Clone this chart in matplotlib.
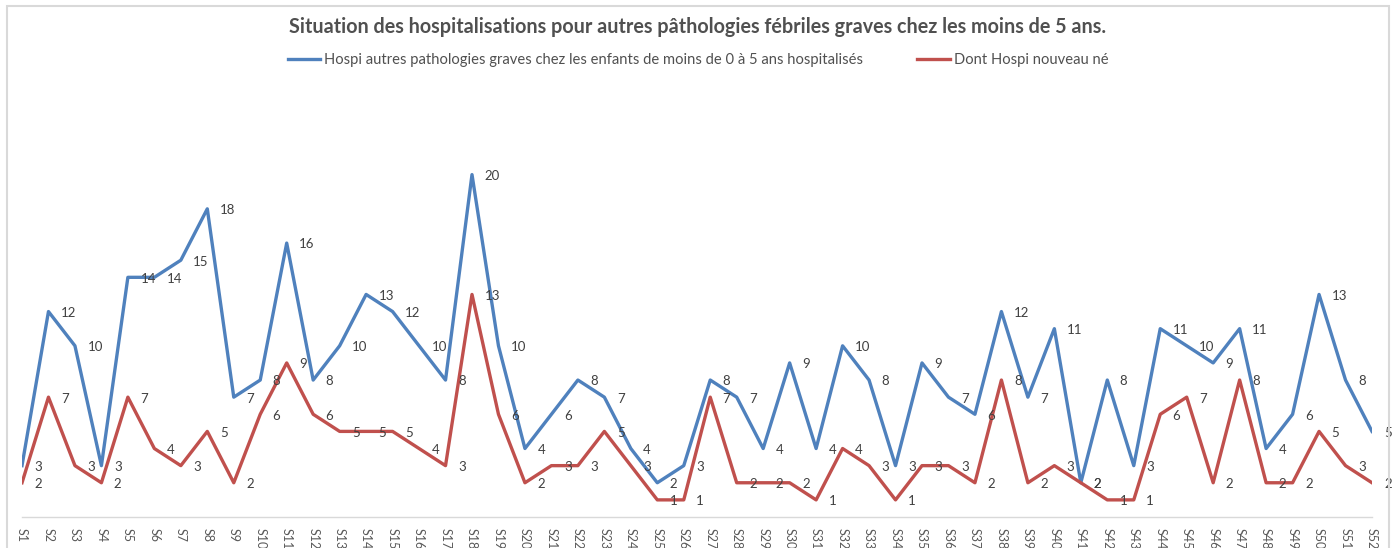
import matplotlib.pyplot as plt
from matplotlib.lines import Line2D
from matplotlib.patches import Rectangle

plt.rcParams["font.family"] = ["Lato", "DejaVu Sans"]

weeks = [f"S{i}" for i in range(1, 53)]
hospi_total = [3, 12, 10, 3, 14, 14, 15, 18, 7, 8, 16, 8, 10, 13, 12, 10, 8, 20,
               10, 4, 6, 8, 7, 4, 2, 3, 8, 7, 4, 9, 4, 10, 8, 3, 9, 7, 6, 12,
               7, 11, 2, 8, 3, 11, 10, 9, 11, 4, 6, 13, 8, 5]
hospi_newborn = [2, 7, 3, 2, 7, 4, 3, 5, 2, 6, 9, 6, 5, 5, 5, 4, 3, 13,
                 6, 2, 3, 3, 5, 3, 1, 1, 7, 2, 2, 2, 1, 4, 3, 1, 3, 3, 2, 8,
                 2, 3, 2, 1, 1, 6, 7, 2, 8, 2, 2, 5, 3, 2]

label_total = "Hospi autres pathologies graves chez les enfants de moins de 0 à 5 ans hospitalisés"
label_newborn = "Dont Hospi nouveau né"
title = "Situation des hospitalisations pour autres pâthologies fébriles graves chez les moins de 5 ans."

blue = "#4F81BD"
red = "#C0504D"
text_gray = "#404040"
W, H = 1396, 548

fig = plt.figure(figsize=(W / 100, H / 100), dpi=100)
fig.patches.append(Rectangle((6.5 / W, -0.01), (1389 - 6.5) / W, 1 - 5.5 / H + 0.01,
                             transform=fig.transFigure, fill=False,
                             edgecolor="#D9D9D9", linewidth=1.5))

ax = fig.add_axes([22 / W, 1 - 517 / H, 1350 / W, (517 - 89) / H])
x = list(range(len(weeks)))
ax.plot(x, hospi_total, color=blue, linewidth=2.4, solid_joinstyle="round")
ax.plot(x, hospi_newborn, color=red, linewidth=2.4, solid_joinstyle="round")

for series in (hospi_total, hospi_newborn):
    for xi, v in zip(x, series):
        ax.annotate(str(v), (xi, v), xytext=(9, -1), textcoords="offset points",
                    ha="left", va="center", fontsize=9.5, color=text_gray,
                    annotation_clip=False)

ax.set_xlim(0, len(weeks) - 1)
ax.set_ylim(0, 25)
ax.set_xticks(x)
ax.set_xticklabels(weeks, rotation=-90, fontsize=9, color="#595959")
ax.tick_params(axis="x", length=0, pad=8)
ax.set_yticks([])
for side in ("left", "right", "top"):
    ax.spines[side].set_visible(False)
ax.spines["bottom"].set_color("#D9D9D9")
ax.spines["bottom"].set_linewidth(1.0)

fig.text(0.5, 1 - 27 / H, title, ha="center", va="center", fontsize=14.2,
         fontweight="bold", color="#505050")

handles = [Line2D([], [], color=blue, linewidth=2.4),
           Line2D([], [], color=red, linewidth=2.4)]
fig.legend(handles, [label_total, label_newborn], loc="center",
           bbox_to_anchor=(0.5, 1 - 60 / H), ncol=2, frameon=False,
           fontsize=10.6, handlelength=2.2, handletextpad=0.27,
           columnspacing=3.7, labelcolor="#505050")

fig.savefig("out.png", dpi=100)
